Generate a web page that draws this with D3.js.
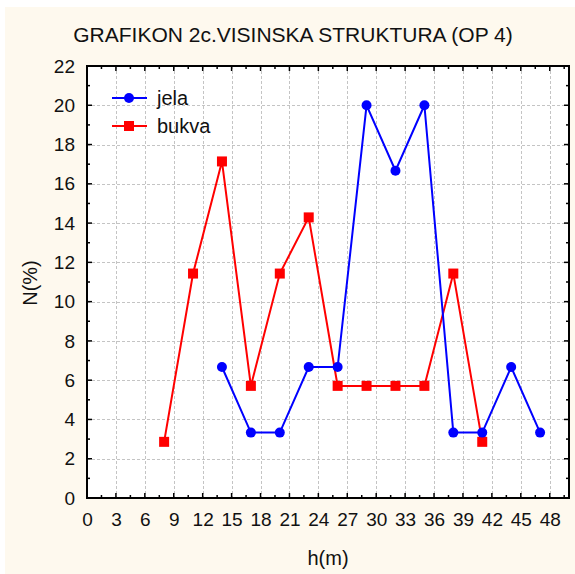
<!DOCTYPE html>
<html>
<head>
<meta charset="utf-8">
<script src="https://cdn.jsdelivr.net/npm/d3@7"></script>
<style>
  body { margin: 0; background: #fff; }
  text { font-family: "Liberation Sans", Arial, sans-serif; fill: #111; }
</style>
</head>
<body>
<div id="chart"></div>
<script>
var width = 575;
var height = 574;

// data
var hJela = [14, 17, 20, 23, 26, 29, 32, 35, 38, 41, 44, 47];
var nJela = [6.67, 3.33, 3.33, 6.67, 6.67, 20, 16.67, 20, 3.33, 3.33, 6.67, 3.33];
var hBukva = [8, 11, 14, 17, 20, 23, 26, 29, 32, 35, 38, 41];
var nBukva = [2.86, 11.43, 17.14, 5.71, 11.43, 14.29, 5.71, 5.71, 5.71, 5.71, 11.43, 2.86];
var xTicks = [0, 3, 6, 9, 12, 15, 18, 21, 24, 27, 30, 33, 36, 39, 42, 45, 48];
var yTicks = [0, 2, 4, 6, 8, 10, 12, 14, 16, 18, 20, 22];

// plot box (don't use "top" as a global, it clashes with window.top)
var pLeft = 87, pRight = 569, pTop = 66, pBottom = 498;

var svg = d3.select("#chart").append("svg")
    .attr("width", width)
    .attr("height", height);

// cream background
svg.append("rect")
    .attr("x", 5).attr("y", 7)
    .attr("width", width - 5).attr("height", height - 7)
    .attr("fill", "#fef9ee");

svg.append("rect")
    .attr("x", pLeft).attr("y", pTop)
    .attr("width", pRight - pLeft).attr("height", pBottom - pTop)
    .attr("fill", "#fff");

var xScale = d3.scaleLinear().domain([0, 50]).range([pLeft, pRight]);
var yScale = d3.scaleLinear().domain([0, 22]).range([pBottom, pTop]);

// grid
var grid = svg.append("g").attr("stroke", "#c4c4c4").attr("stroke-dasharray", "3,2").attr("stroke-width", 1);
xTicks.forEach(function(t) {
    if (t === 0) return;
    grid.append("line")
        .attr("x1", Math.round(xScale(t)) + 0.5).attr("x2", Math.round(xScale(t)) + 0.5)
        .attr("y1", pTop).attr("y2", pBottom);
});
yTicks.forEach(function(t) {
    if (t === 0 || t === 22) return;
    grid.append("line")
        .attr("y1", Math.round(yScale(t)) + 0.5).attr("y2", Math.round(yScale(t)) + 0.5)
        .attr("x1", pLeft).attr("x2", pRight);
});

// inward ticks on all sides
var ticks = svg.append("g").attr("stroke", "#000").attr("stroke-width", 1.5);
d3.range(0, 50, 1.5).forEach(function(t, i) {
    var len = (i % 2 === 0) ? 5 : 3;
    var x = xScale(t);
    ticks.append("line").attr("x1", x).attr("x2", x).attr("y1", pBottom).attr("y2", pBottom - len);
    ticks.append("line").attr("x1", x).attr("x2", x).attr("y1", pTop).attr("y2", pTop + len);
});
d3.range(0, 23, 1).forEach(function(t) {
    var len = (t % 2 === 0) ? 5 : 3;
    var y = yScale(t);
    ticks.append("line").attr("y1", y).attr("y2", y).attr("x1", pLeft).attr("x2", pLeft + len);
    ticks.append("line").attr("y1", y).attr("y2", y).attr("x1", pRight).attr("x2", pRight - len);
});

// axis labels via d3 axes (lines hidden)
var xAxis = d3.axisBottom(xScale).tickValues(xTicks).tickSize(0).tickPadding(15);
var yAxis = d3.axisLeft(yScale).tickValues(yTicks).tickSize(0).tickPadding(12);

var gx = svg.append("g").attr("transform", "translate(0," + pBottom + ")").call(xAxis);
var gy = svg.append("g").attr("transform", "translate(" + pLeft + ",0)").call(yAxis);
[gx, gy].forEach(function(g) {
    g.select(".domain").remove();
    g.selectAll("text").style("font-size", "19px").style("font-family", "Liberation Sans, Arial, sans-serif").attr("fill", "#111");
});

// series
var line = d3.line()
    .x(function(d) { return xScale(d[0]); })
    .y(function(d) { return yScale(d[1]); });

var jela = hJela.map(function(h, i) { return [h, nJela[i]]; });
var bukva = hBukva.map(function(h, i) { return [h, nBukva[i]]; });

svg.append("path").datum(bukva)
    .attr("d", line).attr("fill", "none").attr("stroke", "#ff0000").attr("stroke-width", 2);
svg.append("path").datum(jela)
    .attr("d", line).attr("fill", "none").attr("stroke", "#0000ff").attr("stroke-width", 2);

svg.selectAll(".sq").data(bukva).enter().append("rect")
    .attr("x", function(d) { return xScale(d[0]) - 5; })
    .attr("y", function(d) { return yScale(d[1]) - 5; })
    .attr("width", 10).attr("height", 10)
    .attr("fill", "#ff0000");

svg.selectAll(".dot").data(jela).enter().append("circle")
    .attr("cx", function(d) { return xScale(d[0]); })
    .attr("cy", function(d) { return yScale(d[1]); })
    .attr("r", 5)
    .attr("fill", "#0000ff");

// border
svg.append("rect")
    .attr("x", pLeft).attr("y", pTop)
    .attr("width", pRight - pLeft).attr("height", pBottom - pTop)
    .attr("fill", "none").attr("stroke", "#000").attr("stroke-width", 2);

// legend
var legend = svg.append("g");
legend.append("line").attr("x1", 112).attr("x2", 147).attr("y1", 98).attr("y2", 98)
    .attr("stroke", "#0000ff").attr("stroke-width", 2);
legend.append("circle").attr("cx", 129).attr("cy", 98).attr("r", 5).attr("fill", "#0000ff");
legend.append("text").attr("x", 157).attr("y", 105).style("font-size", "20px").text("jela");
legend.append("line").attr("x1", 112).attr("x2", 147).attr("y1", 126).attr("y2", 126)
    .attr("stroke", "#ff0000").attr("stroke-width", 2);
legend.append("rect").attr("x", 124).attr("y", 121).attr("width", 10).attr("height", 10).attr("fill", "#ff0000");
legend.append("text").attr("x", 157).attr("y", 133).style("font-size", "20px").text("bukva");

// title and axis titles
svg.append("text")
    .attr("x", 293).attr("y", 42)
    .attr("text-anchor", "middle")
    .style("font-size", "21px")
    .text("GRAFIKON 2c.VISINSKA STRUKTURA (OP 4)");

svg.append("text")
    .attr("x", 328).attr("y", 565)
    .attr("text-anchor", "middle")
    .style("font-size", "20px")
    .text("h(m)");

svg.append("text")
    .attr("transform", "translate(37,283) rotate(-90)")
    .attr("text-anchor", "middle")
    .style("font-size", "20px")
    .text("N(%)");
</script>
</body>
</html>
